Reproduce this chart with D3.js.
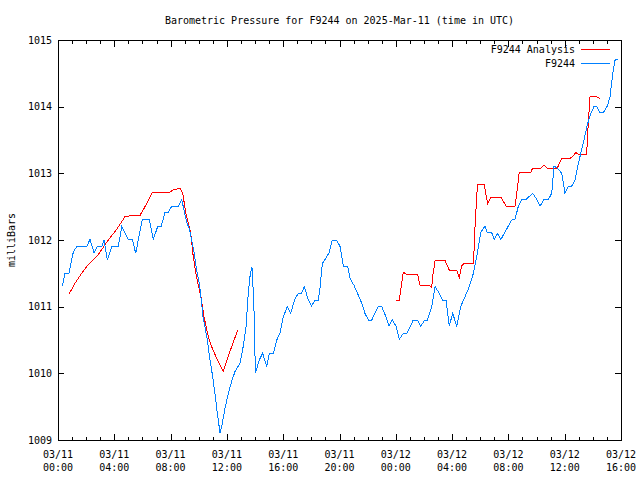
<!DOCTYPE html>
<html><head><meta charset="utf-8">
<script src="https://cdn.jsdelivr.net/npm/d3@7"></script>
<style>
body{margin:0;background:#fff}
svg text{font-family:"DejaVu Sans Mono","Liberation Mono",monospace;font-size:10px;fill:#000}
</style>
</head><body>
<svg id="c" width="640" height="480"></svg>
<script>
const title = "Barometric Pressure for F9244 on 2025-Mar-11 (time in UTC)";
const yLabel = "milliBars";
const seriesNames = ["F9244 Analysis", "F9244"];
const yTicks = [1009, 1010, 1011, 1012, 1013, 1014, 1015];
const xTickHours = [0, 4, 8, 12, 16, 20, 24, 28, 32, 36, 40];
const xTickDates = ["03/11","03/11","03/11","03/11","03/11","03/11","03/12","03/12","03/12","03/12","03/12"];
const xTickTimes = ["00:00","04:00","08:00","12:00","16:00","20:00","00:00","04:00","08:00","12:00","16:00"];

// F9244 observations (hours since 03/11 00:00 UTC)
const obsHours = [0.31,0.50,0.78,0.92,1.09,1.33,2.04,2.27,2.56,2.79,3.10,3.27,3.50,3.82,4.28,4.53,4.99,5.28,5.52,5.99,
  6.49,6.77,7.08,7.32,7.60,7.84,8.08,8.55,8.79,8.90,9.14,9.33,9.50,9.66,9.85,10.04,10.21,10.28,10.44,10.61,
  10.80,10.99,11.15,11.32,11.51,11.63,11.87,12.10,12.34,12.58,12.93,13.12,13.36,13.52,13.64,13.78,13.88,13.95,14.02,14.16,
  14.30,14.54,14.83,15.01,15.30,15.54,15.77,16.01,16.29,16.53,16.84,17.07,17.31,17.50,17.78,18.02,18.26,18.49,18.61,18.78,
  19.02,19.28,19.49,19.80,20.04,20.27,20.58,20.75,21.03,21.34,21.58,21.81,22.05,22.29,22.52,22.76,23.00,23.30,23.52,23.75,
  24.01,24.25,24.53,24.77,25.06,25.24,25.53,25.77,26.07,26.24,26.55,26.79,27.09,27.33,27.57,27.80,28.04,28.33,28.61,28.92,
  29.22,29.51,29.79,30.03,30.34,30.50,30.81,31.00,31.21,31.47,31.76,32.23,32.47,32.70,32.95,33.25,33.73,34.01,34.25,34.53,
  34.84,35.08,35.24,35.47,35.79,36.02,36.26,36.50,36.73,36.92,37.14,37.37,37.61,37.85,38.08,38.27,38.51,38.74,39.03,39.22,
  39.42,39.58,39.76];
const obsValues = [1011.31,1011.5,1011.5,1011.65,1011.82,1011.9,1011.9,1012.01,1011.81,1011.9,1011.9,1012.0,1011.7,1011.9,1011.9,1012.2,1012.01,1012.01,1011.8,1012.31,
  1012.31,1012.01,1012.2,1012.2,1012.41,1012.41,1012.51,1012.51,1012.61,1012.5,1012.27,1012.17,1012.0,1011.82,1011.55,1011.35,1011.05,1010.87,1010.7,1010.5,
  1010.2,1009.95,1009.7,1009.4,1009.11,1009.2,1009.48,1009.7,1009.88,1010.03,1010.15,1010.35,1010.7,1011.2,1011.45,1011.6,1011.2,1010.8,1010.0,1010.1,
  1010.2,1010.3,1010.1,1010.3,1010.3,1010.5,1010.6,1010.85,1011.0,1010.9,1011.12,1011.2,1011.2,1011.3,1011.1,1011.01,1011.1,1011.1,1011.27,1011.65,
  1011.72,1011.82,1012.0,1012.0,1011.9,1011.61,1011.61,1011.42,1011.32,1011.17,1011.05,1010.9,1010.8,1010.8,1010.9,1011.0,1011.0,1010.85,1010.71,1010.8,
  1010.71,1010.51,1010.6,1010.6,1010.71,1010.8,1010.8,1010.71,1010.8,1010.8,1011.0,1011.3,1011.2,1011.1,1011.1,1010.71,1010.9,1010.71,1011.0,1011.15,
  1011.3,1011.5,1011.8,1012.11,1012.21,1012.11,1012.11,1012.01,1012.1,1012.01,1012.12,1012.3,1012.31,1012.5,1012.61,1012.61,1012.7,1012.61,1012.51,1012.61,
  1012.61,1012.7,1013.11,1013.08,1013.0,1012.7,1012.8,1012.81,1012.9,1013.1,1013.3,1013.5,1013.73,1013.9,1014.0,1014.0,1013.91,1013.91,1014.01,1014.15,
  1014.5,1014.7,1014.71];

// F9244 Analysis (null = gap)
const anaHours = [0.78,1.21,1.68,2.15,2.86,3.57,4.17,4.76,5.35,5.83,6.18,6.73,7.96,8.19,8.67,8.86,9.09,9.26,9.43,9.61,
  9.80,9.97,10.16,10.37,10.68,10.92,11.28,11.74,12.22,12.77,18.00,
  24.03,24.25,24.42,24.53,24.72,25.54,25.72,26.43,26.55,26.62,26.79,27.50,27.80,28.33,28.51,28.68,28.85,29.52,29.63,29.75,
  29.82,30.29,30.46,30.53,30.74,31.47,31.83,32.47,32.59,32.77,33.58,33.73,34.30,34.53,34.76,35.47,35.79,36.38,36.67,36.80,
  36.97,37.56,37.68,37.80,38.22,38.51];
const anaValues = [1011.19,1011.35,1011.5,1011.63,1011.78,1012.0,1012.16,1012.35,1012.37,1012.37,1012.5,1012.72,1012.72,1012.75,1012.78,1012.7,1012.4,1012.25,1012.1,1011.75,
  1011.5,1011.32,1011.15,1010.85,1010.55,1010.4,1010.22,1010.03,1010.33,1010.65,null,
  1011.1,1011.1,1011.35,1011.52,1011.49,1011.49,1011.32,1011.31,1011.29,1011.45,1011.69,1011.69,1011.55,1011.55,1011.44,1011.61,1011.65,1011.65,1012.2,1012.67,
  1012.83,1012.83,1012.62,1012.55,1012.64,1012.64,1012.51,1012.51,1012.7,1013.01,1013.01,1013.08,1013.08,1013.12,1013.08,1013.08,1013.22,1013.22,1013.28,1013.31,
  1013.29,1013.29,1013.77,1014.15,1014.15,1014.12];

const colors = ["#ff0000", "#0080ff"];

const svg = d3.select("#c");
const L = 58, R = 621, T = 40, B = 440;
const x = d3.scaleLinear().domain([0, 40]).range([L, R]);
const y = d3.scaleLinear().domain([1009, 1015]).range([B, T]);

// plot lines
const obs = obsHours.map((h, i) => ({h, v: obsValues[i]}));
const ana = anaHours.map((h, i) => ({h, v: anaValues[i]}));
const line = d3.line().defined(d => d.v != null).x(d => x(d.h)).y(d => y(d.v));

svg.append("path").datum(ana).attr("d", line)
  .attr("fill", "none").attr("stroke", colors[0]).attr("stroke-width", 1).attr("shape-rendering", "crispEdges");
svg.append("path").datum(obs).attr("d", line)
  .attr("fill", "none").attr("stroke", colors[1]).attr("stroke-width", 1).attr("shape-rendering", "crispEdges");

// frame
const g = svg.append("g").attr("shape-rendering", "crispEdges").attr("stroke", "#000").attr("stroke-width", 1);
g.append("rect").attr("x", L + 0.5).attr("y", T + 0.5).attr("width", R - L).attr("height", B - T).attr("fill", "none");

// x ticks: hourly minor, 4-hourly major, mirrored on top
const hours = d3.range(0, 41);
hours.forEach(h => {
  const len = xTickHours.includes(h) ? 6 : 3;
  const px = Math.round(x(h)) + 0.5;
  g.append("line").attr("x1", px).attr("x2", px).attr("y1", B).attr("y2", B - len);
  g.append("line").attr("x1", px).attr("x2", px).attr("y1", T + 1).attr("y2", T + 1 + len);
});
// y ticks mirrored
yTicks.forEach(v => {
  const py = Math.round(y(v)) + 0.5;
  g.append("line").attr("x1", L).attr("x2", L + 6).attr("y1", py).attr("y2", py);
  g.append("line").attr("x1", R).attr("x2", R - 6).attr("y1", py).attr("y2", py);
});

// y tick labels
svg.append("g").selectAll("text").data(yTicks).join("text")
  .attr("x", 52).attr("y", d => y(d)).attr("dy", "0.38em").attr("text-anchor", "end").text(d => d);

// x tick labels
const xl = svg.append("g").selectAll("text").data(xTickHours).join("text")
  .attr("text-anchor", "middle").attr("x", d => x(d));
xl.append("tspan").attr("x", d => x(d)).attr("y", 458).text((d, i) => xTickDates[i]);
xl.append("tspan").attr("x", d => x(d)).attr("y", 471).text((d, i) => xTickTimes[i]);

// title
svg.append("text").attr("x", (L + R) / 2).attr("y", 24).attr("text-anchor", "middle").text(title);

// y label
svg.append("text").attr("transform", `translate(15,${(T + B) / 2}) rotate(-90)`)
  .attr("text-anchor", "middle").text(yLabel);

// legend
const legY = [49, 63];
seriesNames.forEach((name, i) => {
  svg.append("text").attr("x", 575).attr("y", legY[i]).attr("dy", "0.38em").attr("text-anchor", "end").text(name);
  svg.append("line").attr("x1", 581).attr("x2", 610).attr("y1", legY[i] + 0.5).attr("y2", legY[i] + 0.5)
    .attr("stroke", colors[i]).attr("stroke-width", 1).attr("shape-rendering", "crispEdges");
});
</script>
</body></html>
